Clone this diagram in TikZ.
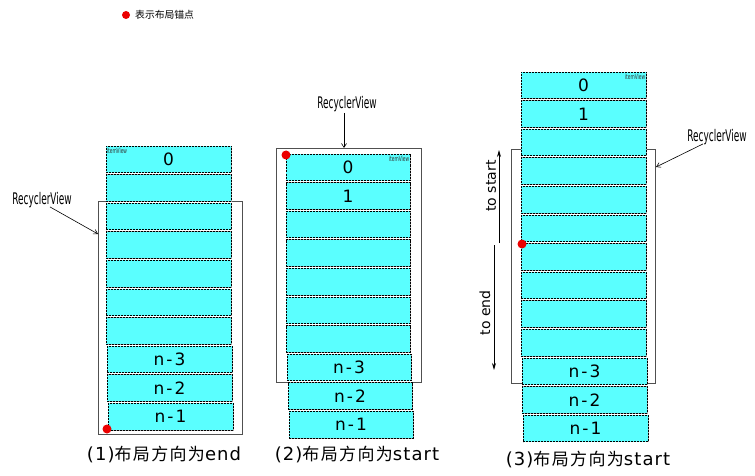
\documentclass[tikz,border=0pt]{standalone}
\usepackage{fontspec}
\setmainfont{DejaVu Sans}
\newfontfamily\cjk{Noto Sans CJK SC}
\newfontfamily\capfont[LetterSpace=6]{DejaVu Sans}
\newfontfamily\capcjk[LetterSpace=8]{Noto Sans CJK SC}
\newfontfamily\numfont[LetterSpace=12]{DejaVu Sans}
\usetikzlibrary{arrows.meta}
\definecolor{itemcyan}{RGB}{90,255,255}
\definecolor{rvgray}{RGB}{80,80,80}
\definecolor{anchorred}{RGB}{235,0,0}
\tikzset{
  itembox/.style={rectangle, anchor=north west, inner sep=0pt, outer sep=0pt,
    fill=itemcyan, draw=black, line width=0.7pt, dash pattern=on 2pt off 1pt,
    preaction={draw=gray!70, solid, line width=0.7pt},
    minimum height=26.5pt, font=\numfont\fontsize{17}{18}\selectfont},
  rvbox/.style={rectangle, anchor=north west, inner sep=0pt, outer sep=0pt,
    draw=rvgray, line width=0.9pt},
  dot/.style={circle, fill=anchorred, inner sep=0pt, minimum size=9pt},
  rvlabel/.style={font=\fontsize{16}{17}\selectfont, xscale=0.56, inner sep=1pt},
  tinylabel/.style={font=\fontsize{7}{7}\selectfont, xscale=0.62, text=black!80, inner sep=0.5pt},
  conn/.style={line width=0.6pt, -{Straight Barb[length=4pt,width=5pt]}},
  dirarrow/.style={line width=0.8pt, -{Stealth[length=7pt,width=4pt]}},
  dirlabel/.style={rotate=90, font=\fontsize{14}{15}\selectfont, inner sep=0pt},
  caption/.style={inner sep=0pt}
}
\newcommand{\capline}[2]{{\capfont\fontsize{18}{19}\selectfont #1}{\capcjk\fontsize{17}{18}\selectfont 布局方向为}{\capfont\fontsize{18}{19}\selectfont #2}}
\begin{document}
\begin{tikzpicture}[x=1pt,y=-1pt]
\useasboundingbox (0,0) rectangle (755,476);
\fill[white] (0,0) rectangle (755,476);

% legend
\node[dot, minimum size=8pt] (legdot) at (126,15) {};
\node[anchor=west, inner sep=0pt, font=\cjk\fontsize{9.8}{10}\selectfont] (legtxt) at (135,15) {表示布局锚点};

% ---------- diagram 1 ----------
\node[rvbox, minimum width=144pt, minimum height=233pt] (rv1) at (98,201) {};
\node[itembox, minimum width=125pt] (a0) at (106,146.0) {0};
\node[itembox, minimum width=125pt] (a1) at (106,174.6) {};
\node[itembox, minimum width=125pt] (a2) at (106,203.2) {};
\node[itembox, minimum width=125pt] (a3) at (106,231.8) {};
\node[itembox, minimum width=125pt] (a4) at (106,260.4) {};
\node[itembox, minimum width=125pt] (a5) at (106,289.0) {};
\node[itembox, minimum width=125pt] (a6) at (106,317.6) {};
\node[itembox, minimum width=125pt] (a7) at (107,346.2) {n-3};
\node[itembox, minimum width=125pt] (a8) at (107,374.8) {n-2};
\node[itembox, minimum width=125pt] (a9) at (108,403.4) {n-1};
\node[tinylabel, anchor=north west] (iv1) at (106.5,147.5) {itemView};
\node[dot] (d1) at (107,429) {};
\node[rvlabel] (lab1) at (42,200) {RecyclerView};
\coordinate (rv1p) at (98,234);
\draw[conn] ([xshift=8pt,yshift=2pt]lab1.south) -- (rv1p);
\node[caption] (cap1) at (164,454) {\capline{(1)}{end}};

% ---------- diagram 2 ----------
\node[rvbox, minimum width=145pt, minimum height=234pt] (rv2) at (276,148) {};
\node[itembox, minimum width=124pt] (b0) at (286,154.0) {0};
\node[itembox, minimum width=124pt] (b1) at (286,182.6) {1};
\node[itembox, minimum width=124pt] (b2) at (286,211.2) {};
\node[itembox, minimum width=124pt] (b3) at (286,239.8) {};
\node[itembox, minimum width=124pt] (b4) at (286,268.4) {};
\node[itembox, minimum width=124pt] (b5) at (286,297.0) {};
\node[itembox, minimum width=124pt] (b6) at (286,325.6) {};
\node[itembox, minimum width=124pt] (b7) at (287,354.2) {n-3};
\node[itembox, minimum width=124pt] (b8) at (288,382.8) {n-2};
\node[itembox, minimum width=124pt] (b9) at (289,411.4) {n-1};
\node[tinylabel, anchor=north east] (iv2) at (409.5,155.5) {itemView};
\node[dot] (d2) at (286,155) {};
\node[rvlabel] (lab2) at (347,104) {RecyclerView};
\coordinate (rv2p) at (344,148);
\draw[conn] (lab2.south -| rv2p) -- (rv2p);
\node[caption] (cap2) at (357,454) {\capline{(2)}{start}};

% ---------- diagram 3 ----------
\node[rvbox, minimum width=144pt, minimum height=234pt] (rv3) at (511,149) {};
\node[itembox, minimum width=125pt] (c0) at (521,72.0) {0};
\node[itembox, minimum width=125pt] (c1) at (521,100.6) {1};
\node[itembox, minimum width=125pt] (c2) at (521,129.2) {};
\node[itembox, minimum width=125pt] (c3) at (521,157.8) {};
\node[itembox, minimum width=125pt] (c4) at (521,186.4) {};
\node[itembox, minimum width=125pt] (c5) at (521,215.0) {};
\node[itembox, minimum width=125pt] (c6) at (521,243.6) {};
\node[itembox, minimum width=125pt] (c7) at (521,272.2) {};
\node[itembox, minimum width=125pt] (c8) at (521,300.8) {};
\node[itembox, minimum width=125pt] (c9) at (521,329.4) {};
\node[itembox, minimum width=125pt] (c10) at (522,358.0) {n-3};
\node[itembox, minimum width=125pt] (c11) at (522,386.6) {n-2};
\node[itembox, minimum width=125pt] (c12) at (523,415.2) {n-1};
\node[tinylabel, anchor=north east] (iv3) at (645.5,73.5) {itemView};
\node[dot] (d3) at (522,244) {};
\node[rvlabel] (lab3) at (717,137) {RecyclerView};
\coordinate (rv3p) at (656,167);
\draw[conn] ([xshift=-14pt,yshift=2pt]lab3.south) -- (rv3p);
% to start / to end
\coordinate (s0) at (499,243);
\coordinate (s1) at (499,150);
\draw[dirarrow] (s0) -- (s1);
\node[dirlabel] (tstart) at (491,186) {to start};
\coordinate (e0) at (494,245);
\coordinate (e1) at (494,370);
\draw[dirarrow] (e0) -- (e1);
\node[dirlabel] (tend) at (485,313) {to end};
\node[caption] (cap3) at (588,459) {\capline{(3)}{start}};
\end{tikzpicture}
\end{document}
